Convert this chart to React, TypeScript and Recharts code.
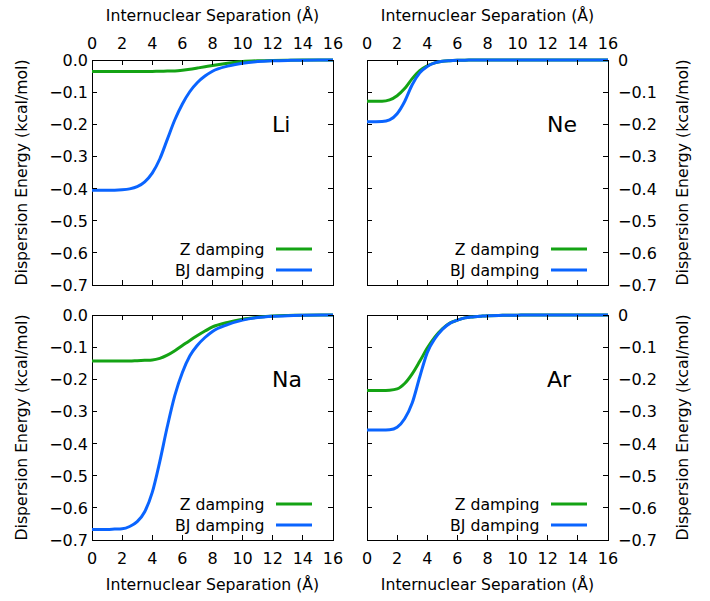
import React from 'react';
import { LineChart, Line, XAxis, YAxis, ReferenceArea, Legend } from 'recharts';

// internuclear separation (Å) at which the curves were read
const SEPARATION = [0, 1, 1.5, 2, 2.5, 3, 3.5, 4, 4.5, 5, 5.5, 6, 6.5, 7, 7.5, 8, 9, 10, 11, 12, 13, 14, 16];

// dispersion energy (kcal/mol)
const LI_Z = [-0.036, -0.036, -0.036, -0.036, -0.036, -0.036, -0.036, -0.0355, -0.035, -0.0345, -0.034, -0.032, -0.029, -0.025, -0.021, -0.017, -0.01, -0.005, -0.0025, -0.0012, -0.0006, -0.0003, -0.0001];
const LI_BJ = [-0.405, -0.405, -0.405, -0.404, -0.401, -0.394, -0.379, -0.352, -0.308, -0.247, -0.186, -0.137, -0.098, -0.07, -0.05, -0.035, -0.019, -0.01, -0.005, -0.0025, -0.0012, -0.0006, -0.0001];

const NE_Z = [-0.128, -0.128, -0.124, -0.111, -0.089, -0.058, -0.033, -0.018, -0.009, -0.004, -0.002, -0.001, -0.0005, -0.0003, -0.0002, -0.0001, 0, 0, 0, 0, 0, 0, 0];
const NE_BJ = [-0.192, -0.191, -0.186, -0.167, -0.129, -0.077, -0.04, -0.02, -0.009, -0.004, -0.002, -0.001, -0.0005, -0.0003, -0.0002, -0.0001, 0, 0, 0, 0, 0, 0, 0];

const NA_Z = [-0.143, -0.143, -0.143, -0.143, -0.143, -0.142, -0.141, -0.14, -0.135, -0.125, -0.111, -0.095, -0.079, -0.064, -0.05, -0.037, -0.023, -0.013, -0.007, -0.003, -0.0015, -0.0007, -0.0001];
const NA_BJ = [-0.667, -0.667, -0.666, -0.665, -0.658, -0.643, -0.612, -0.552, -0.456, -0.347, -0.25, -0.179, -0.127, -0.094, -0.07, -0.051, -0.03, -0.016, -0.008, -0.004, -0.002, -0.001, -0.0002];

const AR_Z = [-0.235, -0.235, -0.234, -0.23, -0.213, -0.183, -0.144, -0.103, -0.069, -0.043, -0.025, -0.016, -0.009, -0.006, -0.004, -0.002, -0.001, -0.0004, 0, 0, 0, 0, 0];
const AR_BJ = [-0.358, -0.358, -0.357, -0.349, -0.323, -0.274, -0.193, -0.117, -0.074, -0.045, -0.026, -0.016, -0.009, -0.006, -0.004, -0.002, -0.001, -0.0004, 0, 0, 0, 0, 0];

const X_TICKS = [0, 2, 4, 6, 8, 10, 12, 14, 16];
const Y_TICKS = [-0.7, -0.6, -0.5, -0.4, -0.3, -0.2, -0.1, 0];

const X_TITLE = 'Internuclear Separation (Å)';
const Y_TITLE = 'Dispersion Energy (kcal/mol)';
const LEGEND_ORDER = ['z', 'bj'];

const FONT = '"DejaVu Sans", Verdana, sans-serif';
const Z_COLOR = '#14a314';
const BJ_COLOR = '#0a64ff';
const PW = 241;
const PH = 225;
const TICK = 5;
const AXIS_W = 60;
const AXIS_H = 30;

function fmtY(v: number, right: boolean) {
  if (Math.abs(v) < 1e-9) return right ? '0' : '0.0';
  return '\u2212' + Math.abs(v).toFixed(1);
}

interface PanelProps {
  z: number[];
  bj: number[];
  left: number;
  top: number;
  height: number;
  xTop: boolean;
  yRight: boolean;
}

function Panel({ z, bj, left, top, height, xTop, yRight }: PanelProps) {
  const width = 355;
  const pl = yRight ? 12 : 92;
  const pt = xTop ? 60 : 15;
  const data = SEPARATION.map((x, i) => ({ x, z: z[i], bj: bj[i] }));

  const margin = {
    top: xTop ? pt - AXIS_H : pt,
    bottom: xTop ? height - pt - PH : height - pt - PH - AXIS_H,
    left: yRight ? pl : pl - AXIS_W,
    right: yRight ? width - pl - PW - AXIS_W : width - pl - PW,
  };

  const xTick = (p: any) => {
    const x = p.x;
    return (
      <g>
        <line x1={x} x2={x} y1={pt} y2={pt + TICK} stroke="#000" shapeRendering="crispEdges" />
        <line x1={x} x2={x} y1={pt + PH} y2={pt + PH - TICK} stroke="#000" shapeRendering="crispEdges" />
        <text
          x={x}
          y={xTop ? pt - 11 : pt + PH + 24}
          textAnchor="middle"
          fontSize={16}
          fontFamily={FONT}
          fill="#000"
        >
          {p.payload.value}
        </text>
      </g>
    );
  };

  const yTick = (p: any) => {
    const y = p.y;
    return (
      <g>
        <line x1={pl} x2={pl + TICK} y1={y} y2={y} stroke="#000" shapeRendering="crispEdges" />
        <line x1={pl + PW} x2={pl + PW - TICK} y1={y} y2={y} stroke="#000" shapeRendering="crispEdges" />
        <text
          x={yRight ? pl + PW + 10 : pl - 4}
          y={y + 6}
          textAnchor={yRight ? 'start' : 'end'}
          fontSize={16}
          fontFamily={FONT}
          fill="#000"
        >
          {fmtY(p.payload.value, yRight)}
        </text>
      </g>
    );
  };

  const legend = (props: any) => {
    const items = [...(props.payload || [])].sort(
      (a: any, b: any) => LEGEND_ORDER.indexOf(a.dataKey) - LEGEND_ORDER.indexOf(b.dataKey)
    );
    return (
      <svg width={170} height={50} style={{ display: 'block' }}>
        {items.map((e: any, i: number) => (
          <g key={e.value}>
            <text x={101.5} y={15 + i * 21 + 6} textAnchor="end" fontSize={15.7} fontFamily={FONT} fill="#000">
              {e.value}
            </text>
            <line x1={113} x2={149} y1={15 + i * 21} y2={15 + i * 21} stroke={e.color} strokeWidth={3} />
          </g>
        ))}
      </svg>
    );
  };

  return (
    <div style={{ position: 'absolute', left, top }}>
      <LineChart width={width} height={height} data={data} margin={margin}>
        <XAxis
          dataKey="x"
          type="number"
          domain={[0, 16]}
          ticks={X_TICKS}
          interval={0}
          orientation={xTop ? 'top' : 'bottom'}
          height={AXIS_H}
          axisLine={false}
          tickLine={false}
          tick={xTick}
        />
        <YAxis
          type="number"
          domain={[-0.7, 0]}
          ticks={Y_TICKS}
          interval={0}
          orientation={yRight ? 'right' : 'left'}
          width={AXIS_W}
          axisLine={false}
          tickLine={false}
          tick={yTick}
        />
        <ReferenceArea
          x1={0}
          x2={16}
          y1={-0.7}
          y2={0}
          fill="none"
          fillOpacity={0}
          stroke="#000"
          strokeWidth={1}
          shapeRendering="crispEdges"
        />
        <Line
          dataKey="z"
          name="Z damping"
          type="monotone"
          stroke={Z_COLOR}
          strokeWidth={3}
          dot={false}
          isAnimationActive={false}
        />
        <Line
          dataKey="bj"
          name="BJ damping"
          type="monotone"
          stroke={BJ_COLOR}
          strokeWidth={3}
          dot={false}
          isAnimationActive={false}
        />
        <Legend
          layout="vertical"
          align="center"
          verticalAlign="middle"
          content={legend}
          wrapperStyle={{ left: pl + PW - 170, top: pt + 174, width: 170, height: 50 }}
        />
      </LineChart>
    </div>
  );
}

export default function App() {
  const txt = { fontSize: 15.7, fontFamily: FONT, fill: '#000' } as const;
  const big = { fontSize: 22, fontFamily: FONT, fill: '#000' } as const;
  return (
    <div style={{ position: 'absolute', left: 0, top: 0, width: 710, height: 601, background: '#fff' }}>
      <Panel z={LI_Z} bj={LI_BJ} left={0} top={0} height={300} xTop yRight={false} />
      <Panel z={NE_Z} bj={NE_BJ} left={355} top={0} height={300} xTop yRight />
      <Panel z={NA_Z} bj={NA_BJ} left={0} top={300} height={301} xTop={false} yRight={false} />
      <Panel z={AR_Z} bj={AR_BJ} left={355} top={300} height={301} xTop={false} yRight />
      <svg
        width={710}
        height={601}
        style={{ position: 'absolute', left: 0, top: 0, pointerEvents: 'none' }}
      >
        <text x={212.5} y={20.5} textAnchor="middle" {...txt}>{X_TITLE}</text>
        <text x={487.5} y={20.5} textAnchor="middle" {...txt}>{X_TITLE}</text>
        <text x={212.5} y={590} textAnchor="middle" {...txt}>{X_TITLE}</text>
        <text x={487.5} y={590} textAnchor="middle" {...txt}>{X_TITLE}</text>
        <text x={27} y={172.5} textAnchor="middle" transform="rotate(-90 27 172.5)" {...txt}>{Y_TITLE}</text>
        <text x={27} y={427.5} textAnchor="middle" transform="rotate(-90 27 427.5)" {...txt}>{Y_TITLE}</text>
        <text x={688} y={172.5} textAnchor="middle" transform="rotate(-90 688 172.5)" {...txt}>{Y_TITLE}</text>
        <text x={688} y={427.5} textAnchor="middle" transform="rotate(-90 688 427.5)" {...txt}>{Y_TITLE}</text>
        <text x={272} y={132} {...big}>Li</text>
        <text x={547} y={132} {...big}>Ne</text>
        <text x={272} y={387} {...big}>Na</text>
        <text x={547} y={387} {...big}>Ar</text>
      </svg>
    </div>
  );
}
